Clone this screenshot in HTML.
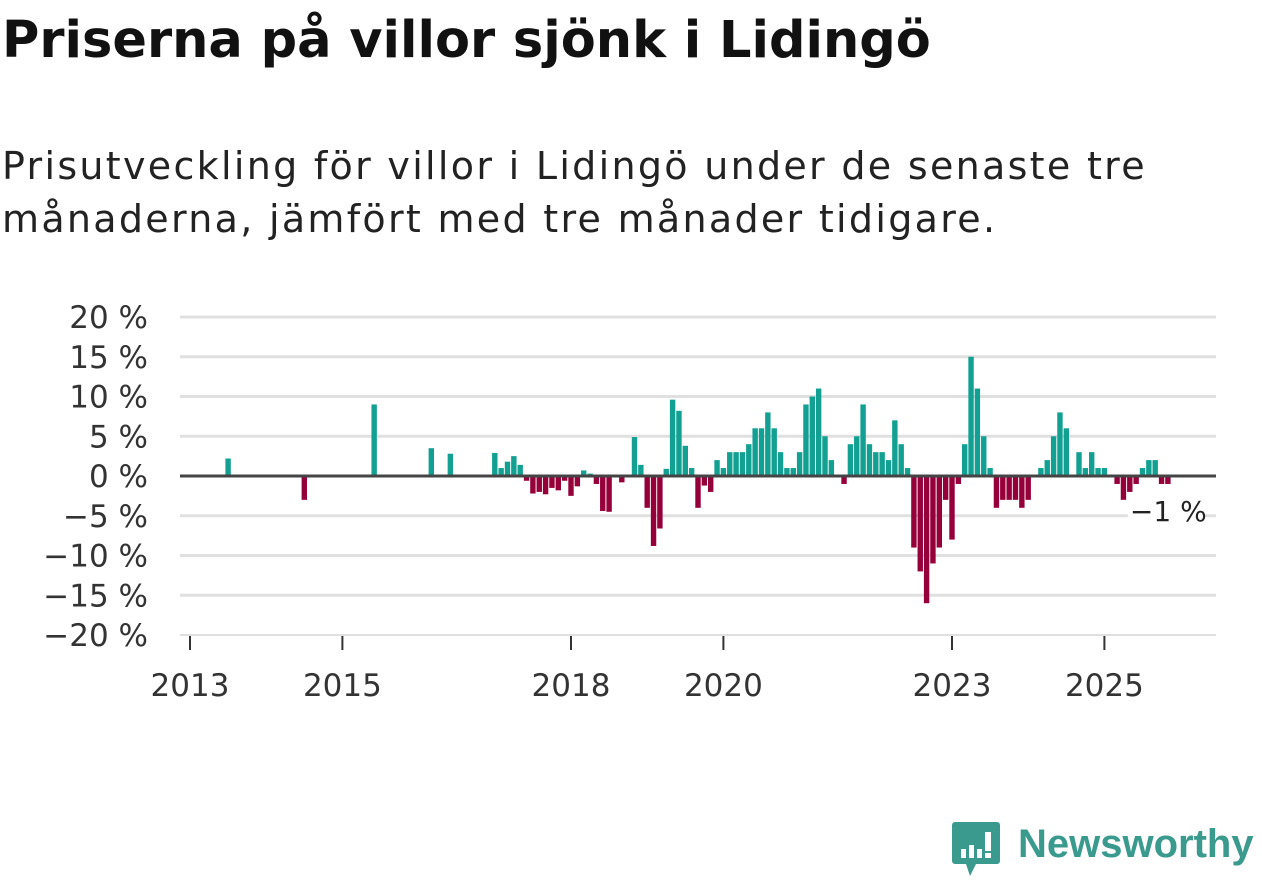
<!DOCTYPE html>
<html><head><meta charset="utf-8"><style>
body{margin:0;width:1262px;height:879px;background:#fff;overflow:hidden;font-family:"DejaVu Sans","Liberation Sans",sans-serif;color:#111}
#title{position:absolute;left:2px;top:11px;font-size:51px;font-weight:bold;margin:0;white-space:nowrap;font-family:"DejaVu Sans",sans-serif}
#sub{position:absolute;left:2px;top:140px;font-size:38px;line-height:53px;margin:0;color:#222;width:1200px;letter-spacing:2.3px}
svg{position:absolute;left:0;top:0}
</style></head><body>
<h1 id="title">Priserna på villor sjönk i Lidingö</h1>
<p id="sub">Prisutveckling för villor i Lidingö under de senaste tre<br>månaderna, jämfört med tre månader tidigare.</p>
<svg id="chart" width="1262" height="879"></svg>
<div style="position:absolute;left:952px;top:820px;width:310px;height:60px">
<svg width="50" height="60" style="position:absolute;left:0;top:0"><path d="M3 2h42a3 3 0 0 1 3 3v36a3 3 0 0 1-3 3H24l-6 12-4-12H3a3 3 0 0 1-3-3V5a3 3 0 0 1 3-3z" fill="#3a9a8e"/><rect x="9" y="29" width="5" height="9" fill="#fff"/><rect x="17" y="25" width="5" height="13" fill="#fff"/><rect x="25" y="29" width="5" height="9" fill="#fff"/><rect x="33" y="12" width="6" height="19" fill="#fff"/><rect x="33" y="33" width="6" height="5" fill="#fff"/></svg>
<span style="position:absolute;left:66px;top:2px;font-size:40px;font-weight:bold;color:#3a9a8e;font-family:'Liberation Sans',sans-serif">Newsworthy</span></div>
<script>
const startYear = 2013;
const values = [null,null,null,null,null,null,2.2,null,null,null,null,null,
null,null,null,null,null,null,-3.0,null,null,null,null,null,
null,null,null,null,null,9.0,null,null,null,null,null,null,
null,null,3.5,null,null,2.8,null,null,null,null,null,null,
2.9,1.0,1.8,2.5,1.4,-0.6,-2.2,-2.0,-2.3,-1.5,-1.8,-0.6,
-2.5,-1.3,0.7,0.3,-1.0,-4.4,-4.5,null,-0.8,null,4.9,1.4,
-4.0,-8.8,-6.6,0.9,9.6,8.2,3.8,1.0,-4.0,-1.2,-2.0,2.0,
1.0,3.0,3.0,3.0,4.0,6,6,8,6,3,1,1,
3,9,10,11,5,2,null,-1,4,5,9,4,
3,3,2,7,4,1,-9,-12,-16,-11,-9,-3,
-8,-1,4,15,11,5,1,-4,-3,-3,-3,-4,
-3,null,1,2,5,8,6,null,3,1,3,1,
1,null,-1,-3,-2,-1,1,2,2,-1,-1];
const yTicks = [20,15,10,5,0,-5,-10,-15,-20];
const xTickYears = [2013,2015,2018,2020,2023,2025];
const lastLabel = "−1 %";
const svg=document.getElementById('chart');const NS='http://www.w3.org/2000/svg';
const x0=190, pxMonth=6.35, yZero=476, pxPct=7.95;
const FF='DejaVu Sans, Liberation Sans, sans-serif';
const xm=m=>x0+m*pxMonth; const y=v=>yZero-v*pxPct;
function el(t,a){const e=document.createElementNS(NS,t);for(const k in a)e.setAttribute(k,a[k]);svg.appendChild(e);return e;}
yTicks.forEach(v=>{
 const g=el('line',{x1:180,x2:1216,y1:y(v),y2:y(v),stroke:'#e0e0e0','stroke-width':v===-20?2:3});
 
 
 const t=el('text',{x:148,y:y(v)+11,'text-anchor':'end','font-size':31,fill:'#333','font-family':FF});
 t.textContent=(v<0?'−'+(-v):v)+' %';
 
 
});
xTickYears.forEach(yr=>{
 const x=xm((yr-startYear)*12);
 const l=el('line',{x1:x,x2:x,y1:636,y2:650,stroke:'#333','stroke-width':2});
 
 
 const t=el('text',{x:x,y:696,'text-anchor':'middle','font-size':31,fill:'#333','font-family':FF});
 t.textContent=yr;
 
 
});
values.forEach((v,m)=>{
 if(v===null)return;
 const x=xm(m);
 const r=el('rect',{x:x-2.7,width:5.4,y:v>=0?y(v):yZero,height:Math.abs(v)*pxPct,fill:v>=0?'#12a092':'#96003a'});
 
 
});
const z=el('line',{x1:180,x2:1216,y1:yZero,y2:yZero,stroke:'#444','stroke-width':3});


const lastX=xm(values.length-1);
const bg=el('rect',{x:lastX-40,y:494,width:76,height:32,fill:'#fff'});


const lt=el('text',{x:lastX-38,y:521,'font-size':28,fill:'#222','font-family':FF});
lt.textContent=lastLabel;


</script>
</body></html>
